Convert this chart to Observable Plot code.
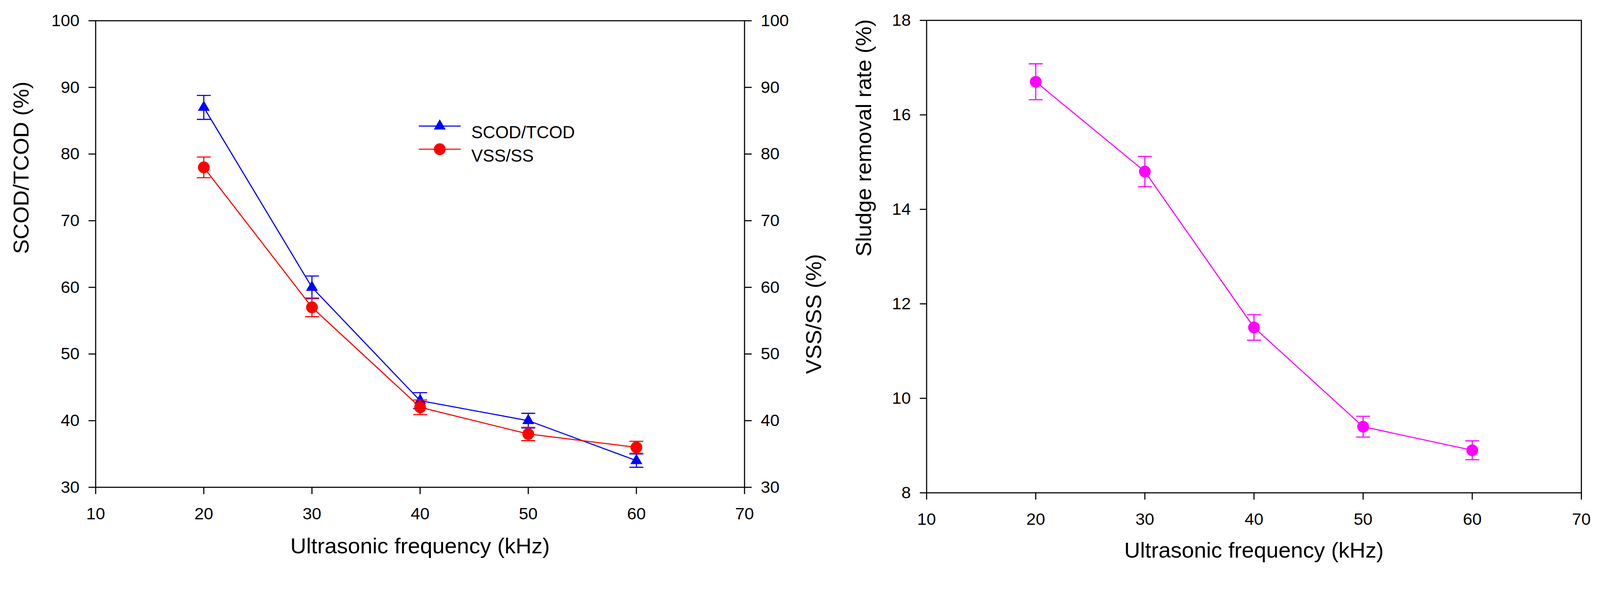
<!DOCTYPE html>
<html>
<head>
<meta charset="utf-8">
<script src="https://cdn.jsdelivr.net/npm/d3@7"></script>
<script src="https://cdn.jsdelivr.net/npm/@observablehq/plot@0.6"></script>
<style>
  html, body { margin: 0; padding: 0; background: white; overflow: hidden; }
  #wrap { display: flex; background: white; }
  #wrap svg { display: block; overflow: visible; flex: none; }
</style>
</head>
<body>
<div id="wrap"></div>
<script>
// frequencies (kHz)
const freq = [20, 30, 40, 50, 60];

// left panel
const scodTcod = [87, 60, 43, 40, 34];
const scodErr = [1.8, 1.7, 1.2, 1.1, 1.0];
const vssSs = [78, 57, 42, 38, 36];
const vssErr = [1.55, 1.4, 1.1, 1.0, 0.9];

// right panel
const sludgeRate = [16.7, 14.8, 11.5, 9.4, 8.9];
const sludgeErr = [0.38, 0.32, 0.27, 0.22, 0.2];

// ticks
const xTicks = [10, 20, 30, 40, 50, 60, 70];
const leftTicks = [30, 40, 50, 60, 70, 80, 90, 100];
const rightTicks = [8, 10, 12, 14, 16, 18];

const FONT = '"Liberation Sans", Arial, Helvetica, sans-serif';
const BLUE = "#0000ff", RED = "#ff0000", MAGENTA = "#ff00ff";
const W = 4357, H = 1575;
const TRI_R = 12, DOT_R = 16;

// horizontal dash used for error bar caps and legend lines
const hbar = {
  draw(ctx, size) {
    const w = Math.sqrt(size / Math.PI);
    ctx.moveTo(-w, 0);
    ctx.lineTo(w, 0);
  }
};

function rows(ys, es) {
  return freq.map((f, i) => ({freq: f, value: ys[i], err: es[i]}));
}

function series(data, color, symbol, r) {
  return [
    Plot.line(data, {x: "freq", y: "value", stroke: color, strokeWidth: 3}),
    Plot.ruleX(data, {x: "freq", y1: d => d.value - d.err, y2: d => d.value + d.err, stroke: color, strokeWidth: 3}),
    Plot.dot(data, {x: "freq", y: d => d.value - d.err, symbol: hbar, r: 19, stroke: color, strokeWidth: 3, fill: "none"}),
    Plot.dot(data, {x: "freq", y: d => d.value + d.err, symbol: hbar, r: 19, stroke: color, strokeWidth: 3, fill: "none"}),
    Plot.dot(data, {x: "freq", y: "value", symbol: symbol, r: r, fill: color, stroke: "none"})
  ];
}

const scodData = rows(scodTcod, scodErr);
const vssData = rows(vssSs, vssErr);
const sludgeData = rows(sludgeRate, sludgeErr);

const baseStyle = {fontFamily: FONT, fontSize: "46px", color: "black", background: "transparent", overflow: "visible"};

let leftPlot = Plot.plot({
  width: 2200,
  height: H,
  marginLeft: 260,
  marginRight: 173,
  marginTop: 56,
  marginBottom: 248,
  style: baseStyle,
  x: {domain: [10, 70]},
  y: {domain: [30, 100]},
  marks: [
    Plot.axisX({ticks: xTicks, tickSize: 19, tickPadding: 36, strokeWidth: 3, label: null, tickFormat: d => String(d)}),
    Plot.axisY({anchor: "left", ticks: leftTicks, tickSize: 19, tickPadding: 25, strokeWidth: 3, label: null, tickFormat: d => String(d)}),
    Plot.axisY({anchor: "right", ticks: leftTicks, tickSize: 19, tickPadding: 25, strokeWidth: 3, label: null, tickFormat: d => String(d)}),
    Plot.frame({stroke: "black", strokeWidth: 3}),
    ...series(scodData, BLUE, "triangle", TRI_R),
    ...series(vssData, RED, "circle", DOT_R),
    // axis titles
    Plot.text(["SCOD/TCOD (%)"], {text: d => d, frameAnchor: "left", dx: -202, rotate: -90, fontSize: 60}),
    Plot.text(["VSS/SS (%)"], {text: d => d, frameAnchor: "right", dx: 189, rotate: -90, fontSize: 60}),
    Plot.text(["Ultrasonic frequency (kHz)"], {text: d => d, frameAnchor: "bottom", dy: 180, fontSize: 60}),
    // legend
    Plot.dot([0], {frameAnchor: "top-left", dx: 937, dy: 287, symbol: hbar, r: 57, stroke: BLUE, strokeWidth: 3, fill: "none"}),
    Plot.dot([0], {frameAnchor: "top-left", dx: 937, dy: 287, symbol: "triangle", r: TRI_R, fill: BLUE}),
    Plot.text(["SCOD/TCOD"], {text: d => d, frameAnchor: "top-left", dx: 1023, dy: 287, textAnchor: "start", fontSize: 47}),
    Plot.dot([0], {frameAnchor: "top-left", dx: 937, dy: 350, symbol: hbar, r: 57, stroke: RED, strokeWidth: 3, fill: "none"}),
    Plot.dot([0], {frameAnchor: "top-left", dx: 937, dy: 350, symbol: "circle", r: DOT_R, fill: RED}),
    Plot.text(["VSS/SS"], {text: d => d, frameAnchor: "top-left", dx: 1023, dy: 350, textAnchor: "start", fontSize: 47})
  ]
});

let rightPlot = Plot.plot({
  width: 2157,
  height: H,
  marginLeft: 323,
  marginRight: 51,
  marginTop: 55,
  marginBottom: 233,
  style: baseStyle,
  x: {domain: [10, 70]},
  y: {domain: [8, 18]},
  marks: [
    Plot.axisX({ticks: xTicks, tickSize: 19, tickPadding: 36, strokeWidth: 3, label: null, tickFormat: d => String(d)}),
    Plot.axisY({anchor: "left", ticks: rightTicks, tickSize: 18, tickPadding: 25, strokeWidth: 3, label: null, tickFormat: d => String(d)}),
    Plot.frame({stroke: "black", strokeWidth: 3}),
    ...series(sludgeData, MAGENTA, "circle", DOT_R),
    Plot.text(["Sludge removal rate (%)"], {text: d => d, frameAnchor: "left", dx: -170, rotate: -90, fontSize: 60}),
    Plot.text(["Ultrasonic frequency (kHz)"], {text: d => d, frameAnchor: "bottom", dy: 176, fontSize: 60})
  ]
});

// fit the whole figure into whatever viewport the page gets
let vw = document.documentElement.clientWidth || window.innerWidth || W;
let vh = window.innerHeight || document.documentElement.clientHeight || H;
let s = Math.min(vw / W, vh / H);
if (!(s > 0)) s = 1;

let wrap = document.getElementById("wrap");
wrap.style.width = (W * s) + "px";
wrap.style.height = (H * s) + "px";
[[leftPlot, 2200], [rightPlot, 2157]].forEach(([svg, w]) => {
  svg.style.width = (w * s) + "px";
  svg.style.height = (H * s) + "px";
  svg.style.maxWidth = "none";
  wrap.append(svg);
});
</script>
</body>
</html>
